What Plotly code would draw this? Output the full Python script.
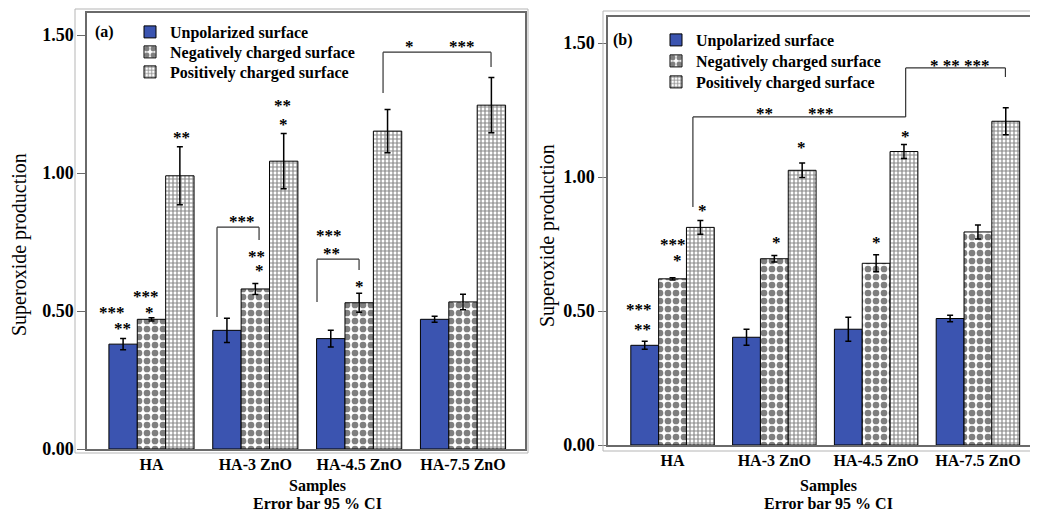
import plotly.graph_objects as go

categories = ["HA", "HA-3 ZnO", "HA-4.5 ZnO", "HA-7.5 ZnO"]
series_names = ["Unpolarized surface", "Negatively charged surface", "Positively charged surface"]

# Panel (a)
a_unpol = [0.38, 0.43, 0.40, 0.47]
a_unpol_err = [0.02, 0.044, 0.03, 0.011]
a_neg = [0.47, 0.58, 0.53, 0.533]
a_neg_err = [0.006, 0.02, 0.034, 0.028]
a_pos = [0.99, 1.043, 1.152, 1.246]
a_pos_err = [0.105, 0.10, 0.078, 0.10]

# Panel (b)
b_unpol = [0.372, 0.402, 0.432, 0.472]
b_unpol_err = [0.015, 0.03, 0.045, 0.012]
b_neg = [0.62, 0.695, 0.678, 0.795]
b_neg_err = [0.004, 0.012, 0.032, 0.026]
b_pos = [0.812, 1.025, 1.095, 1.208]
b_pos_err = [0.026, 0.027, 0.026, 0.05]

y_ticks = [0.0, 0.5, 1.0, 1.5]
y_tick_text = ["0.00", "0.50", "1.00", "1.50"]

FONT = "Liberation Serif"
# page is 1038x521; the body keeps its default 8px margin, so the figure is 1030x505 at (8, 8)
OFF = 8
W, H = 1030, 505
BLUE = "#3B54B0"
AXC = "#6a6a6a"

xs = list(range(len(categories)))

def px_x(p):
    return (p - OFF) / W

def px_y(p):
    return 1 - (p - OFF) / H

styles = [
    dict(color=BLUE, line=dict(color="black", width=1)),
    dict(color="white", line=dict(color="black", width=1),
         pattern=dict(shape=".", fgcolor="black", bgcolor="white", size=8, solidity=0.55)),
    dict(color="white", line=dict(color="black", width=1),
         pattern=dict(shape="+", fgcolor="#111111", bgcolor="white", size=4, solidity=0.5)),
]

fig = go.Figure()
panels = [
    ("x", "y", ["legend", "legend2", "legend3"], [a_unpol, a_neg, a_pos], [a_unpol_err, a_neg_err, a_pos_err]),
    ("x2", "y2", ["legend4", "legend5", "legend6"], [b_unpol, b_neg, b_pos], [b_unpol_err, b_neg_err, b_pos_err]),
]
for xa, ya, lgs, vals, errs in panels:
    for i in range(3):
        fig.add_trace(go.Bar(
            x=xs, y=vals[i], name=series_names[i], marker=styles[i],
            error_y=dict(type="data", array=errs[i], color="black", thickness=1.5, width=3),
            xaxis=xa, yaxis=ya, legend=lgs[i], offsetgroup=str(i),
        ))

xfont = dict(family=FONT, size=16, color="black", weight="bold")
yfont = dict(family=FONT, size=18, color="black", weight="bold")
common_x = dict(tickvals=xs, ticktext=categories, tickfont=xfont, showline=True, automargin=False,
                linecolor=AXC, linewidth=1.5, mirror=True, ticks="", showgrid=False, zeroline=False)
common_y = dict(tickvals=y_ticks, ticktext=y_tick_text, tickfont=yfont, showline=True, automargin=False,
                linecolor=AXC, linewidth=1.5, mirror=True, ticks="outside", ticklen=8,
                tickcolor=AXC, showgrid=False, zeroline=False)

leg_font = dict(family=FONT, size=16, color="black", weight="bold")

def leg(xpx, ypx):
    return dict(x=px_x(xpx), y=px_y(ypx), xanchor="left", yanchor="middle", font=leg_font,
                bgcolor="rgba(0,0,0,0)", itemclick=False, borderwidth=0)

fig.update_layout(
    width=W, height=H, margin=dict(l=0, r=0, t=0, b=0, pad=0, autoexpand=False),
    paper_bgcolor="white", plot_bgcolor="white",
    barmode="group", bargap=0.18, bargroupgap=0,
    xaxis=dict(domain=[px_x(87), px_x(525)], range=[-0.621, 3.597], anchor="y", **common_x),
    yaxis=dict(domain=[px_y(449), px_y(13)], range=[0, 1.58], anchor="x", **common_y),
    xaxis2=dict(domain=[px_x(608), 1.0], range=[-0.634, 3.59], anchor="y2", **common_x),
    yaxis2=dict(domain=[px_y(445), px_y(17)], range=[0, 1.597], anchor="x2", **common_y),
    legend=leg(130, 32), legend2=leg(130, 52), legend3=leg(130, 72),
    legend4=leg(656, 40), legend5=leg(656, 61), legend6=leg(656, 82),
    showlegend=True,
)

shapes = []
# outer light frames
shapes.append(dict(type="rect", xref="paper", yref="paper", x0=px_x(75), x1=px_x(528),
                   y0=px_y(453), y1=px_y(9), line=dict(color="#b5b5b5", width=1)))
shapes.append(dict(type="rect", xref="paper", yref="paper", x0=px_x(603), x1=px_x(1045),
                   y0=px_y(451), y1=px_y(11), line=dict(color="#b5b5b5", width=1)))

def bracket(xa, ya, x0, yb0, x1, yb1, yh):
    pts = [(x0, yb0, x0, yh), (x0, yh, x1, yh), (x1, yh, x1, yb1)]
    for (p, q, r, s) in pts:
        if p == r and q == s:
            continue
        shapes.append(dict(type="line", xref=xa, yref=ya, x0=p, y0=q, x1=r, y1=s,
                           line=dict(color="#333333", width=1.2)))

# panel (a) brackets
bracket("x", "y", 0.631, 0.478, 1.036, 0.757, 0.804)
bracket("x", "y", 1.594, 0.533, 1.999, 0.649, 0.688)
bracket("x", "y", 2.23, 1.29, 3.27, 1.384, 1.438)
# panel (b) brackets
bracket("x2", "y2", 0.20, 0.888, 2.29, 1.224, 1.224)
bracket("x2", "y2", 2.29, 1.224, 3.27, 1.373, 1.407)

fig.update_layout(shapes=shapes)

star_font = dict(family=FONT, size=17, color="black", weight="bold")
stars = [
    ("x", "y", -0.38, 0.507, "***"), ("x", "y", -0.275, 0.446, "**"),
    ("x", "y", -0.05, 0.565, "***"), ("x", "y", -0.015, 0.507, "*"),
    ("x", "y", 0.29, 1.138, "**"),
    ("x", "y", 0.872, 0.837, "***"),
    ("x", "y", 1.016, 0.71, "**"), ("x", "y", 1.036, 0.656, "*"),
    ("x", "y", 1.257, 1.254, "**"), ("x", "y", 1.267, 1.188, "*"),
    ("x", "y", 1.71, 0.783, "***"), ("x", "y", 1.729, 0.721, "**"),
    ("x", "y", 2.0, 0.601, "*"),
    ("x", "y", 2.48, 1.471, "*"), ("x", "y", 2.99, 1.471, "***"),
    ("x2", "y2", 0.906, 1.25, "**"), ("x2", "y2", 1.458, 1.25, "***"),
    ("x2", "y2", 2.824, 1.429, "* ** ***"),
    ("x2", "y2", 0.29, 0.888, "*"),
    ("x2", "y2", 0.0, 0.761, "***"), ("x2", "y2", 0.044, 0.701, "*"),
    ("x2", "y2", -0.33, 0.515, "***"), ("x2", "y2", -0.30, 0.444, "**"),
    ("x2", "y2", 1.017, 0.765, "*"), ("x2", "y2", 1.262, 1.123, "*"),
    ("x2", "y2", 1.999, 0.765, "*"), ("x2", "y2", 2.29, 1.164, "*"),
]
ann = []
for xa, ya, x, y, t in stars:
    ann.append(dict(xref=xa, yref=ya, x=x, y=y, text=t, showarrow=False, font=star_font,
                    xanchor="center", yanchor="middle", yshift=-3))

lab_font = dict(family=FONT, size=16, color="black", weight="bold")
ann.append(dict(xref="paper", yref="paper", x=px_x(93), y=px_y(32), text="(a)", showarrow=False,
                font=lab_font, xanchor="left", yanchor="middle"))
ann.append(dict(xref="paper", yref="paper", x=px_x(611), y=px_y(40), text="(b)", showarrow=False,
                font=lab_font, xanchor="left", yanchor="middle"))
for cx in (317, 828):
    ann.append(dict(xref="paper", yref="paper", x=px_x(cx), y=px_y(486), text="Samples",
                    showarrow=False, font=lab_font, xanchor="center", yanchor="middle"))
    ann.append(dict(xref="paper", yref="paper", x=px_x(cx), y=px_y(503), text="Error bar 95 % CI",
                    showarrow=False, font=lab_font, xanchor="center", yanchor="middle"))
for cx, cy in ((19, 245), (548, 236)):
    ann.append(dict(xref="paper", yref="paper", x=px_x(cx), y=px_y(cy), text="Superoxide production",
                    showarrow=False, textangle=-90,
                    font=dict(family=FONT, size=20, color="black"),
                    xanchor="center", yanchor="middle"))
fig.update_layout(annotations=ann)

fig.write_html("out.html", config={"displayModeBar": False})
